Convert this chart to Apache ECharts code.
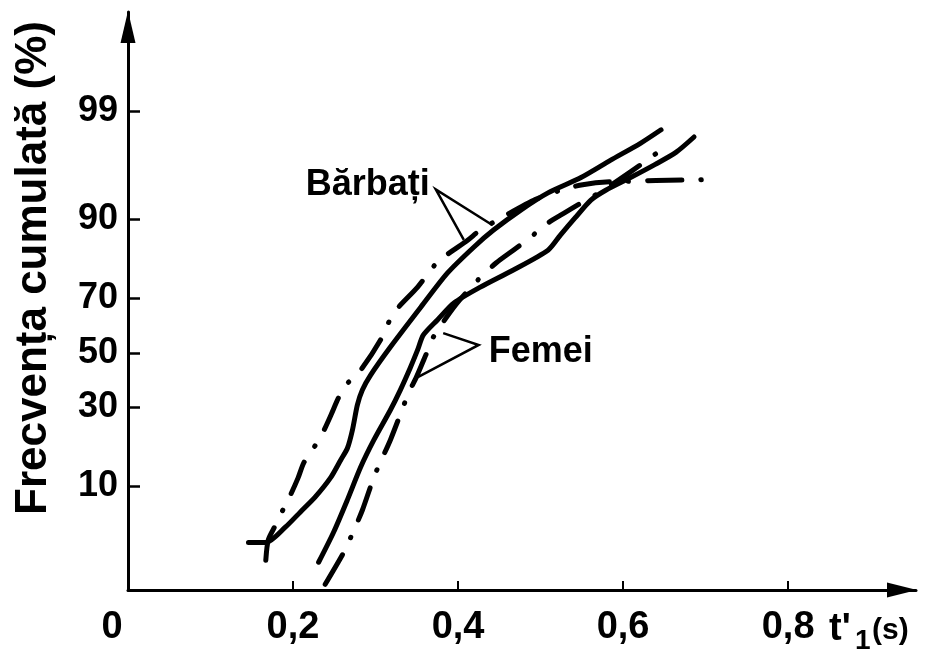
<!DOCTYPE html>
<html>
<head>
<meta charset="utf-8">
<script src="https://cdn.jsdelivr.net/npm/echarts@6/dist/echarts.min.js"></script>
<style>
  html, body { margin: 0; padding: 0; background: #fff; }
  #chart { width: 926px; height: 655px; }
</style>
</head>
<body>
<div id="chart"></div>
<script>
// Cumulative distributions of reaction time t'1 on normal probability paper.

// Axis ticks
const yTicks = [10, 30, 50, 70, 90, 99];
const xTicks = [0, 0.2, 0.4, 0.6, 0.8];

// Bărbați – solid curve (time in s, cumulative frequency in %)
const barbatiSolidT = [0.146, 0.167, 0.191, 0.209, 0.227, 0.246, 0.258, 0.266, 0.272, 0.278, 0.284, 0.294, 0.318, 0.355, 0.387, 0.419, 0.443, 0.476, 0.509, 0.549, 0.585, 0.621, 0.646];
const barbatiSolidP = [3.4, 3.4, 4.7, 6.3, 8.3, 11.6, 15.2, 18.0, 22.9, 30.8, 36.0, 41.5, 52.2, 67.0, 77.8, 84.5, 88.1, 91.5, 93.8, 95.4, 96.8, 97.8, 98.4];

// Bărbați – dash-dot curve
const barbatiDashT = [0.167, 0.170, 0.179, 0.189, 0.197, 0.206, 0.213, 0.225, 0.236, 0.246, 0.255, 0.264, 0.282, 0.306, 0.322, 0.351, 0.375, 0.412, 0.427, 0.458, 0.494, 0.524, 0.551, 0.585, 0.704];
const barbatiDashP = [2.3, 3.6, 4.9, 6.8, 8.6, 11.4, 14.5, 18.0, 22.1, 27.5, 33.2, 37.8, 43.4, 54.9, 64.9, 73.6, 80.8, 86.1, 88.1, 90.7, 93.0, 94.1, 94.7, 95.0, 95.2];

// Femei – solid curve
const femeiSolidT = [0.231, 0.249, 0.266, 0.282, 0.298, 0.318, 0.330, 0.342, 0.351, 0.358, 0.375, 0.395, 0.427, 0.467, 0.509, 0.524, 0.542, 0.561, 0.579, 0.609, 0.639, 0.664, 0.686];
const femeiSolidP = [2.2, 4.2, 7.9, 13.6, 20.1, 29.1, 36.0, 44.2, 51.1, 56.8, 62.4, 68.4, 73.6, 78.7, 83.8, 87.1, 90.3, 92.9, 94.1, 95.4, 96.5, 97.3, 98.1];

// Femei – dash-dot curve
const femeiDashT = [0.239, 0.261, 0.270, 0.284, 0.298, 0.306, 0.318, 0.333, 0.340, 0.349, 0.361, 0.370, 0.397, 0.424, 0.446, 0.467, 0.488, 0.509, 0.528, 0.549, 0.576, 0.609, 0.642];
const femeiDashP = [1.3, 2.7, 3.8, 6.5, 11.6, 14.7, 20.1, 29.8, 35.0, 40.4, 49.2, 56.0, 67.7, 75.8, 80.6, 83.8, 86.7, 89.4, 91.0, 92.5, 94.1, 95.9, 97.3];

// Label pointers: [tip, apex, tip]
const barbatiPointerT = [0.407, 0.373, 0.442];
const barbatiPointerP = [86.1, 94.2, 89.0];
const femeiPointerT = [0.382, 0.425, 0.349];
const femeiPointerP = [57.5, 53.0, 40.4];

// Inverse standard normal CDF (Acklam) – probability-paper scale
function probit(p) {
  const a = [-3.969683028665376e+01, 2.209460984245205e+02, -2.759285104469687e+02, 1.383577518672690e+02, -3.066479806614716e+01, 2.506628277459239e+00];
  const b = [-5.447609879822406e+01, 1.615858368580409e+02, -1.556989798598866e+02, 6.680131188771972e+01, -1.328068155288572e+01];
  const c = [-7.784894002430293e-03, -3.223964580411365e-01, -2.400758277161838e+00, -2.549732539343734e+00, 4.374664141464968e+00, 2.938163982698783e+00];
  const d = [7.784695709041462e-03, 3.224671290700398e-01, 2.445134137142996e+00, 3.754408661907416e+00];
  const pl = 0.02425, ph = 1 - pl;
  let q, r;
  if (p < pl) {
    q = Math.sqrt(-2 * Math.log(p));
    return (((((c[0]*q+c[1])*q+c[2])*q+c[3])*q+c[4])*q+c[5]) / ((((d[0]*q+d[1])*q+d[2])*q+d[3])*q+1);
  }
  if (p <= ph) {
    q = p - 0.5; r = q * q;
    return (((((a[0]*r+a[1])*r+a[2])*r+a[3])*r+a[4])*r+a[5])*q / (((((b[0]*r+b[1])*r+b[2])*r+b[3])*r+b[4])*r+1);
  }
  q = Math.sqrt(-2 * Math.log(1 - p));
  return -(((((c[0]*q+c[1])*q+c[2])*q+c[3])*q+c[4])*q+c[5]) / ((((d[0]*q+d[1])*q+d[2])*q+d[3])*q+1);
}
const toZ = pct => probit(pct / 100);
const pairs = (ts, ps) => ts.map((t, i) => [t, toZ(ps[i])]);

const FONT = '"Liberation Sans", Arial, Helvetica, sans-serif';
const yTickZ = yTicks.map(toZ);

const solidStyle = { color: '#000', width: 5, cap: 'round', join: 'round' };
const dashStyle = { color: '#000', width: 5, type: [34, 19, 0.5, 19], cap: 'round', join: 'round' };
const pointerStyle = { color: '#000', width: 2.5, join: 'miter' };

function pointerData(ts, ps, text, position, offset) {
  return pairs(ts, ps).map((p, i) => i === 1 ? {
    value: p,
    symbolSize: 0,
    label: {
      show: true, position: position, distance: 6, offset: offset,
      formatter: text, color: '#000', fontSize: 36, fontWeight: 'bold', fontFamily: FONT
    }
  } : { value: p, symbolSize: 0 });
}

const chart = echarts.init(document.getElementById('chart'), null, { renderer: 'canvas' });

chart.setOption({
  backgroundColor: '#fff',
  animation: false,
  grid: { left: 128, right: 10, top: 12, bottom: 65, containLabel: false },
  xAxis: {
    type: 'value',
    min: 0,
    max: 0.955,
    axisLine: {
      show: true,
      onZero: false,
      lineStyle: { color: '#000', width: 3 },
      symbol: ['none', 'triangle'],
      symbolSize: [15, 30],
      symbolOffset: [0, -14]
    },
    axisTick: {
      show: true, inside: true, length: 9,
      lineStyle: { color: '#000', width: 2 },
      customValues: xTicks.slice(1)
    },
    axisLabel: {
      show: true,
      customValues: xTicks,
      margin: 19,
      color: '#000',
      fontSize: 38,
      fontWeight: 'bold',
      fontFamily: FONT,
      formatter: v => (Math.abs(v) < 1e-9 ? '{z|0}' : v.toFixed(1).replace('.', ',')),
      rich: { z: { fontSize: 38, fontWeight: 'bold', fontFamily: FONT, color: '#000', padding: [0, 32, 0, 0] } }
    },
    splitLine: { show: false }
  },
  yAxis: {
    type: 'value',
    min: -2.281,
    max: 3.277,
    axisLine: {
      show: true,
      onZero: false,
      lineStyle: { color: '#000', width: 3 },
      symbol: ['none', 'triangle'],
      symbolSize: [15, 32],
      symbolOffset: [0, -15]
    },
    axisTick: {
      show: true, inside: true, length: 12,
      lineStyle: { color: '#000', width: 2.5 },
      customValues: yTickZ
    },
    axisLabel: {
      show: true,
      customValues: yTickZ,
      margin: 10,
      color: '#000',
      fontSize: 36,
      fontWeight: 'bold',
      fontFamily: FONT,
      formatter: v => {
        const i = yTickZ.findIndex(z => Math.abs(z - v) < 1e-6);
        return i >= 0 ? String(yTicks[i]) : '';
      }
    },
    splitLine: { show: false }
  },
  series: [
    { name: 'Bărbați', type: 'line', data: pairs(barbatiSolidT, barbatiSolidP), showSymbol: false, smooth: 0.25, lineStyle: solidStyle, z: 3 },
    { name: 'Bărbați (2)', type: 'line', data: pairs(barbatiDashT, barbatiDashP), showSymbol: false, smooth: 0.25, lineStyle: dashStyle, z: 3 },
    { name: 'Femei', type: 'line', data: pairs(femeiSolidT, femeiSolidP), showSymbol: false, smooth: 0.25, lineStyle: solidStyle, z: 3 },
    { name: 'Femei (2)', type: 'line', data: pairs(femeiDashT, femeiDashP), showSymbol: false, smooth: 0.25, lineStyle: dashStyle, z: 3 },
    {
      name: 'pointerB', type: 'line', lineStyle: pointerStyle, showSymbol: true, symbol: 'circle', symbolSize: 0, z: 4,
      data: pointerData(barbatiPointerT, barbatiPointerP, 'Bărbați', 'left', [0, -4])
    },
    {
      name: 'pointerF', type: 'line', lineStyle: pointerStyle, showSymbol: true, symbol: 'circle', symbolSize: 0, z: 4,
      data: pointerData(femeiPointerT, femeiPointerP, 'Femei', 'right', [4, 7])
    }
  ],
  graphic: [
    {
      type: 'text', x: 34, y: 268, rotation: Math.PI / 2,
      style: { text: 'Frecvența cumulată (%)', fontSize: 44, fontWeight: 'bold', fontFamily: FONT, fill: '#000', align: 'center', verticalAlign: 'middle' }
    },
    {
      type: 'text', x: 829, y: 630,
      style: { text: "t'", fontSize: 38, fontWeight: 'bold', fontFamily: FONT, fill: '#000', align: 'left', verticalAlign: 'middle' }
    },
    {
      type: 'text', x: 855, y: 641,
      style: { text: '1', fontSize: 28, fontWeight: 'bold', fontFamily: FONT, fill: '#000', align: 'left', verticalAlign: 'middle' }
    },
    {
      type: 'text', x: 872, y: 631,
      style: { text: '(s)', fontSize: 30, fontWeight: 'bold', fontFamily: FONT, fill: '#000', align: 'left', verticalAlign: 'middle' }
    }
  ]
});
</script>
</body>
</html>
